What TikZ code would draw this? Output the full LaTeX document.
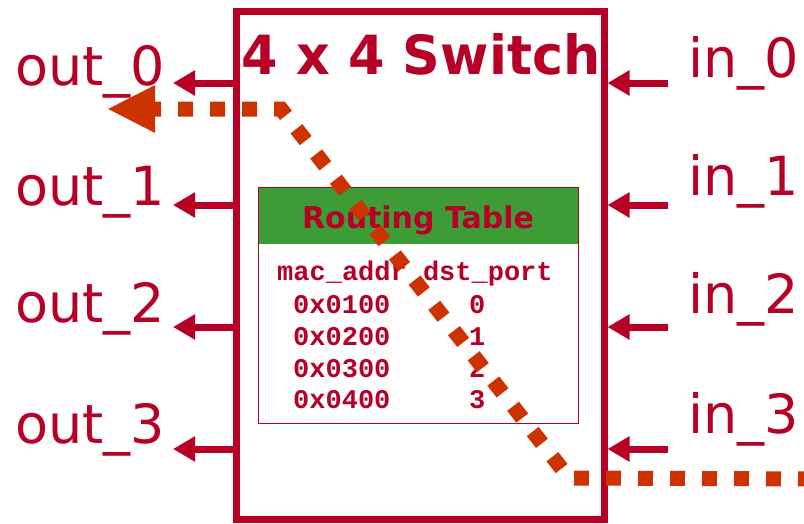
\documentclass[tikz,border=0pt]{standalone}
\usepackage{fontspec}
\setmainfont{DejaVu Sans}
\newfontfamily\tabfont{Liberation Mono}
\usetikzlibrary{arrows.meta}
\definecolor{crimson}{RGB}{182,0,38}
\definecolor{rust}{RGB}{204,51,0}
\definecolor{tgreen}{RGB}{61,156,53}
\tikzset{
  portarrow/.style={line width=7pt, crimson, -{Triangle[length=22pt,width=24pt]}},
  portlabel/.style={crimson, inner sep=0pt, font=\fontsize{54}{60}\selectfont},
  tabtext/.style={crimson, inner sep=0pt, anchor=base west, font=\tabfont\bfseries\fontsize{27}{30}\selectfont},
  flow/.style={rust, line width=15pt, dash pattern=on 15pt off 17pt, -{Triangle[length=48pt,width=44pt]}}
}
\begin{document}
\begin{tikzpicture}[x=1pt,y=-1pt]
\useasboundingbox (0,0) rectangle (804,523);
% switch box
\node[draw=crimson, line width=7pt, minimum width=368pt, minimum height=508pt, inner sep=0pt] (sw) at (420,265) {};
\node[crimson, font=\bfseries\fontsize{54}{60}\selectfont, anchor=base, inner sep=0pt] (title) at (421,74) {\scalebox{0.97}[1]{4 x 4 Switch}};
% routing table
\node[fill=tgreen, minimum width=320pt, minimum height=57pt, inner sep=0pt] (rthead) at (418,215.5) {};
\node[draw=crimson, line width=1pt, minimum width=320pt, minimum height=236pt, inner sep=0pt] (rt) at (418,305) {};
\node[crimson, font=\bfseries\fontsize{30}{34}\selectfont, anchor=base, inner sep=0pt] (rthtext) at (418,228) {Routing Table};
\node[tabtext] (hdr) at (277,280) {mac\_addr dst\_port};
\node[tabtext] (a0) at (293,313) {0x0100};
\node[tabtext] (a1) at (293,345) {0x0200};
\node[tabtext] (a2) at (293,377) {0x0300};
\node[tabtext] (a3) at (293,408) {0x0400};
\node[tabtext] (p0) at (469,313) {0};
\node[tabtext] (p1) at (469,345) {1};
\node[tabtext] (p2) at (469,377) {2};
\node[tabtext] (p3) at (469,408) {3};
% output ports
\coordinate (o0) at (173,83);
\coordinate (o1) at (173,205);
\coordinate (o2) at (173,327);
\coordinate (o3) at (173,449);
\foreach \i in {0,1,2,3} {\draw[portarrow] (sw.west |- o\i) -- (o\i);}
\node[portlabel, anchor=base west] (lo0) at (15,85) {out\_0};
\node[portlabel, anchor=base west] (lo1) at (15,205) {out\_1};
\node[portlabel, anchor=base west] (lo2) at (15,322) {out\_2};
\node[portlabel, anchor=base west] (lo3) at (15,443) {out\_3};
% input ports
\coordinate (i0) at (668,83);
\coordinate (i1) at (668,205);
\coordinate (i2) at (668,327);
\coordinate (i3) at (668,449);
\foreach \i in {0,1,2,3} {\draw[portarrow] (i\i) -- (sw.east |- i\i);}
\node[portlabel, anchor=base west] (li0) at (688,77) {in\_0};
\node[portlabel, anchor=base west] (li1) at (688,195) {in\_1};
\node[portlabel, anchor=base west] (li2) at (688,313) {in\_2};
\node[portlabel, anchor=base west] (li3) at (688,433) {in\_3};
% flow path
\coordinate (fs) at (813,479);
\coordinate (fc1) at (569,478);
\coordinate (fc2) at (281,109);
\coordinate (fe) at (107,109);
\draw[flow] (fs) -- (fc1) -- (fc2) -- (fe);
\end{tikzpicture}
\end{document}
